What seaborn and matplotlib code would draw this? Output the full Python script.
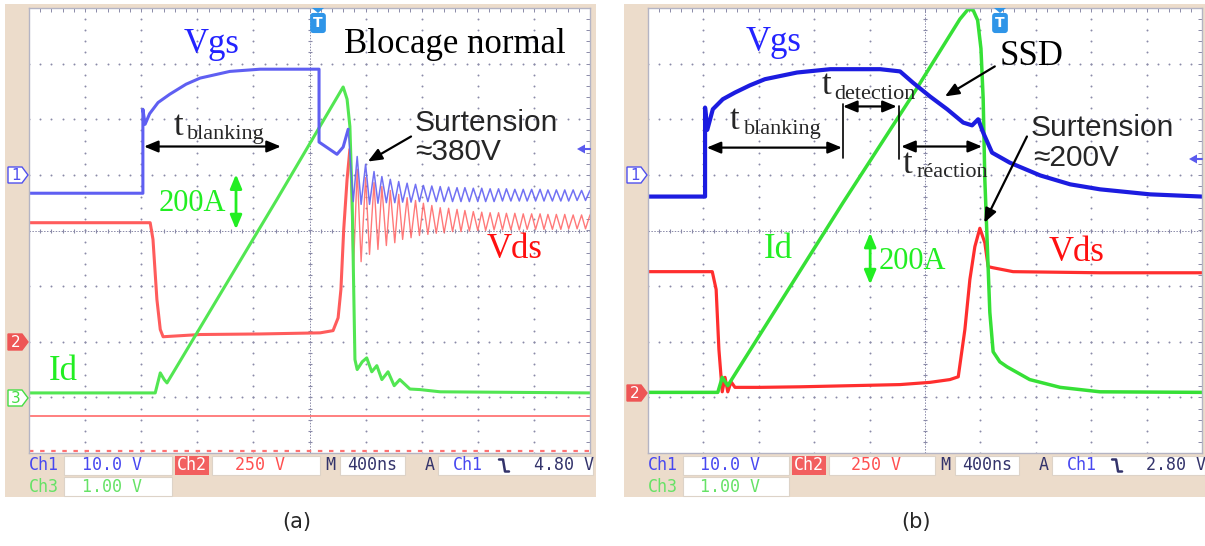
import numpy as np
import pandas as pd
import matplotlib
matplotlib.use("Agg")
import matplotlib.pyplot as plt
import seaborn as sns
from matplotlib.patches import Rectangle, Polygon

# Oscilloscope screen units: x in divisions (0..10), y in divisions (-4..4, 0 = centre line)

# ---- (a) Blocage normal ----
A_VGS_T = [0.00, 2.03, 2.03, 2.07, 2.15, 2.30, 2.51, 2.80, 3.05, 3.58, 4.12, 5.17, 5.17, 5.49, 5.60, 5.69]
A_VGS_V = [0.67, 0.67, 2.18, 1.91, 2.10, 2.30, 2.45, 2.63, 2.74, 2.86, 2.90, 2.90, 1.59, 1.37, 1.50, 1.82]

A_VDS_T = [0.00, 2.16, 2.21, 2.28, 2.34, 2.39, 3.05, 4.12, 5.19, 5.42, 5.51, 5.56, 5.61, 5.67, 5.72]
A_VDS_V = [0.14, 0.14, -0.16, -1.24, -1.78, -1.91, -1.87, -1.86, -1.84, -1.80, -1.57, -1.06, 0.02, 0.92, 1.46]

A_ID_T = [0.00, 2.25, 2.34, 2.41, 2.46, 4.42, 5.60, 5.67, 5.72, 5.76, 5.81, 5.85, 5.94, 6.02,
          6.11, 6.20, 6.29, 6.40, 6.51, 6.61, 6.79, 6.97, 7.33, 10.00]
A_ID_V = [-2.92, -2.92, -2.56, -2.68, -2.74, 0.56, 2.58, 2.36, 1.87, 0.56, -2.32, -2.50, -2.36, -2.29,
          -2.54, -2.43, -2.68, -2.54, -2.79, -2.68, -2.85, -2.86, -2.90, -2.92]

# ringing after turn-off (peaks / troughs)
RING_T = [5.78, 5.85, 5.92, 6.00, 6.07, 6.15, 6.22, 6.29, 6.37, 6.44,
          6.52, 6.59, 6.66, 6.74, 6.81, 6.89, 6.96, 7.03, 7.11, 7.18,
          7.26, 7.33, 7.40, 7.48, 7.55, 7.63, 7.70, 7.77, 7.85, 7.92,
          8.00, 8.07, 8.14, 8.22, 8.29, 8.37, 8.44, 8.51, 8.59, 8.66,
          8.74, 8.81, 8.88, 8.96, 9.03, 9.11, 9.18, 9.25, 9.33, 9.40,
          9.48, 9.55, 9.62, 9.70, 9.77, 9.85, 9.92, 10.00]
A_VGS_RING = [0.52, 1.33, 0.47, 1.19, 0.47, 1.06, 0.49, 0.97, 0.50, 0.92,
              0.50, 0.88, 0.51, 0.85, 0.51, 0.83, 0.52, 0.81, 0.52, 0.80,
              0.52, 0.79, 0.52, 0.78, 0.52, 0.77, 0.52, 0.77, 0.52, 0.76,
              0.52, 0.76, 0.52, 0.75, 0.52, 0.75, 0.53, 0.75, 0.53, 0.74,
              0.53, 0.74, 0.53, 0.74, 0.53, 0.74, 0.53, 0.73, 0.53, 0.73,
              0.53, 0.73, 0.53, 0.73, 0.54, 0.72, 0.54, 0.72]
A_VDS_RING = [-0.79, 1.10, -0.56, 0.95, -0.43, 0.86, -0.34, 0.79, -0.27, 0.72,
              -0.22, 0.65, -0.16, 0.59, -0.13, 0.54, -0.09, 0.49, -0.07, 0.45,
              -0.05, 0.41, -0.04, 0.40, -0.02, 0.38, -0.02, 0.36, -0.01, 0.34,
              0.00, 0.33, 0.00, 0.32, 0.01, 0.32, 0.01, 0.31, 0.01, 0.31,
              0.01, 0.30, 0.02, 0.30, 0.02, 0.30, 0.02, 0.29, 0.02, 0.29,
              0.02, 0.29, 0.03, 0.28, 0.03, 0.28, 0.03, 0.28]
A_REF_LEVEL = -3.33

# ---- (b) SSD ----
B_VGS_T = [0.00, 1.03, 1.03, 1.07, 1.17, 1.35, 1.57, 1.84, 2.11, 2.69, 3.29, 4.19, 4.55, 4.78,
           5.09, 5.40, 5.69, 5.85, 5.96, 6.05, 6.21, 6.53, 7.08, 7.62, 8.16, 9.06, 10.00]
B_VGS_V = [0.61, 0.61, 2.21, 1.81, 2.18, 2.36, 2.48, 2.61, 2.72, 2.84, 2.90, 2.90, 2.86, 2.66,
           2.41, 2.18, 1.94, 1.89, 2.00, 1.76, 1.40, 1.22, 0.99, 0.83, 0.74, 0.65, 0.61]

B_VDS_T = [0.00, 1.16, 1.23, 1.28, 1.34, 1.39, 1.44, 1.50, 1.57, 2.02, 2.74, 3.65, 4.55,
           5.09, 5.45, 5.60, 5.72, 5.81, 5.90, 5.99, 6.08, 6.14, 6.23, 6.59, 8.16, 10.00]
B_VDS_V = [-0.74, -0.74, -1.06, -2.14, -2.90, -2.64, -2.90, -2.72, -2.82, -2.82, -2.81, -2.79, -2.77,
           -2.73, -2.68, -2.63, -1.78, -0.88, -0.29, 0.04, -0.22, -0.65, -0.67, -0.74, -0.76, -0.76]

B_ID_T = [0.00, 1.26, 1.34, 1.44, 3.52, 4.78, 5.63, 5.78, 5.87, 5.95, 6.01, 6.05, 6.08,
          6.17, 6.23, 6.35, 6.48, 6.89, 7.44, 8.16, 10.00]
B_ID_V = [-2.91, -2.91, -2.64, -2.79, 0.50, 2.44, 3.80, 3.98, 3.96, 3.78, 3.27, 2.37, 0.92,
          -1.47, -2.18, -2.36, -2.45, -2.68, -2.82, -2.90, -2.91]

# scope readout (Ch1, Ch2, time base, trigger, Ch3)
READOUT_A = ["10.0 V", "250 V", "400ns", "4.80 V", "1.00 V"]
READOUT_B = ["10.0 V", "250 V", "400ns", "2.80 V", "1.00 V"]

SERIF = "Liberation Serif"
ARIAL = "Liberation Sans"
MONO = "DejaVu Sans Mono"
BEIGE = "#ecdccb"
GRID_C = "#8a8aa8"
W, H = 1205, 546


def trace(ax, t, v, color, lw, alpha=1.0):
    df = pd.DataFrame({"t": t, "v": v})
    sns.lineplot(data=df, x="t", y="v", sort=False, estimator=None,
                 color=color, lw=lw, alpha=alpha, ax=ax, legend=False)


def screen(fig, x0, x1, y0=8, y1=453):
    ax = fig.add_axes([x0 / W, (H - y1) / H, (x1 - x0) / W, (y1 - y0) / H], zorder=2)
    ax.set_facecolor("white")
    fx = np.arange(0, 10.001, 0.2)
    fy = np.arange(-4, 4.001, 0.2)
    for gx in [1, 2, 3, 4, 6, 7, 8, 9]:
        ax.scatter(np.full(len(fy), gx), fy, s=2, color=GRID_C, lw=0)
    for gy in [-3, -2, -1, 1, 2, 3]:
        ax.scatter(fx, np.full(len(fx), gy), s=2, color=GRID_C, lw=0)
    ax.plot([0, 10], [0, 0], color=GRID_C, lw=0.7, ls=(0, (1.5, 1.5)))
    ax.plot([5, 5], [-4, 4], color=GRID_C, lw=0.7, ls=(0, (1.5, 1.5)))
    ax.scatter(fx, np.zeros(len(fx)), marker="|", s=12, color=GRID_C, lw=0.8)
    ax.scatter(np.full(len(fy), 5), fy, marker="_", s=12, color=GRID_C, lw=0.8)
    ax.set_xticks(fx)
    ax.set_yticks(fy)
    ax.tick_params(direction="in", length=3, width=0.7, colors=GRID_C, top=True, right=True,
                   labelbottom=False, labelleft=False)
    for s in ax.spines.values():
        s.set_color("#b4b4c4")
        s.set_linewidth(1.0)
    return ax


def finish(ax):
    ax.set_xlim(0, 10)
    ax.set_ylim(-4, 4)
    ax.set_xlabel("")
    ax.set_ylabel("")


def arrow(ax, start, end, style, color="black", lw=1.6):
    ax.annotate("", xy=end, xytext=start,
                arrowprops=dict(arrowstyle=style + ",head_length=0.6,head_width=0.25",
                                color=color, lw=lw, shrinkA=0, shrinkB=0, mutation_scale=14))


def tsub(ax, x, y, xs, ys, sub):
    ax.text(x, y, "t", fontsize=25, family=SERIF, va="baseline")
    ax.text(xs, ys, sub, fontsize=16, family=SERIF, va="baseline")


def ch_marker(ov, xl, yc, label, fc, ec, tc):
    ov.add_patch(Polygon([(xl, yc - 8), (xl + 14, yc - 8), (xl + 20, yc), (xl + 14, yc + 8), (xl, yc + 8)],
                         closed=True, fc=fc, ec=ec, lw=1))
    ov.text(xl + 8, yc + 0.5, label, color=tc, fontsize=11, ha="center", va="center")


def trig_marks(ov, xt, xr, yr):
    ov.add_patch(Polygon([(xt - 6, 8), (xt + 6, 8), (xt, 13)], closed=True, fc="#2f95e8", ec="none"))
    ov.text(xt, 23, "T", color="white", fontsize=10, fontweight="bold", ha="center", va="center",
            bbox=dict(boxstyle="round,pad=0.22", fc="#2f95e8", ec="none"))
    ov.add_patch(Polygon([(xr - 13, yr), (xr - 5, yr - 4.5), (xr - 5, yr + 4.5)], closed=True,
                         fc="#5a5aee", ec="none"))
    ov.plot([xr - 5, xr], [yr, yr], color="#5a5aee", lw=1.5)


def readout(ov, X, vals):
    r1, r2 = 465.5, 486.5
    for a, b in [(64, 172), (212, 320), (340, 405), (438, 593)]:
        ov.add_patch(Rectangle((X(a), 456), X(b) - X(a), 19, fc="white", ec="#ddd3c8", lw=0.8))
    ov.add_patch(Rectangle((X(64), 477), X(172) - X(64), 19, fc="white", ec="#ddd3c8", lw=0.8))
    ov.add_patch(Rectangle((X(175), 456), X(209) - X(175), 19, fc="#f25f5f", ec="none"))
    blue, red, navy, green = "#4848f0", "#ff5050", "#33336b", "#66e266"
    items = [("Ch1", 44, r1, blue), (vals[0], 112, r1, blue), ("Ch2", 192, r1, "white"),
             (vals[1], 260, r1, red), ("M", 330, r1, navy), (vals[2], 372, r1, navy),
             ("A", 430, r1, navy), ("Ch1", 468, r1, blue), (vals[3], 564, r1, navy),
             ("Ch3", 44, r2, green), (vals[4], 112, r2, green)]
    for txt, x, y, c in items:
        ov.text(X(x), y, txt, color=c, fontsize=12, family=MONO, ha="center", va="center")
    xs = X(504)
    ov.plot([xs - 5, xs - 1, xs + 1, xs + 5], [r1 - 6, r1 - 6, r1 + 6, r1 + 6], color=navy, lw=1.8)


sns.set_theme(style="white")
plt.rcParams["font.family"] = ["DejaVu Sans"]

fig = plt.figure(figsize=(12.05, 5.46), dpi=100)
bg = fig.add_axes([0, 0, 1, 1], zorder=0)
bg.set_xlim(0, W)
bg.set_ylim(H, 0)
bg.axis("off")
bg.add_patch(Rectangle((5, 4), 591, 493, fc=BEIGE, ec="none"))
bg.add_patch(Rectangle((624, 4), 581, 493, fc=BEIGE, ec="none"))

# ---------------- panel (a) ----------------
ax_a = screen(fig, 29, 590)
ax_a.axhline(A_REF_LEVEL, color="#ff6a6a", lw=1.2)
ax_a.axhline(-3.96, color="#ff7070", lw=1.6, dashes=(2, 3))
trace(ax_a, A_VDS_T, A_VDS_V, "#ff5c5c", 2.2)
trace(ax_a, [A_VDS_T[-1]] + RING_T, [A_VDS_V[-1]] + A_VDS_RING, "#ff6262", 1.0, 0.85)
trace(ax_a, A_ID_T, A_ID_V, "#52e652", 2.2)
trace(ax_a, A_VGS_T, A_VGS_V, "#5f5ff2", 2.2)
trace(ax_a, [A_VGS_T[-1]] + RING_T, [A_VGS_V[-1]] + A_VGS_RING, "#6262f2", 1.1, 0.9)
finish(ax_a)

ax_a.text(3.26, 3.35, "Vgs", color="#2323ff", fontsize=25, family=SERIF, ha="center", va="center")
ax_a.text(7.59, 3.35, "Blocage normal", color="black", fontsize=25, family=SERIF, ha="center", va="center")
tsub(ax_a, 2.58, 1.71, 2.82, 1.64, "blanking")
arrow(ax_a, (2.05, 1.51), (4.49, 1.51), "<|-|>")
ax_a.text(6.88, 1.93, "Surtension", fontsize=21.5, family=ARIAL, ha="left", va="center")
ax_a.text(6.88, 1.41, "≈380V", fontsize=21.5, family=ARIAL, ha="left", va="center")
arrow(ax_a, (6.81, 1.69), (6.04, 1.24), "-|>")
ax_a.text(2.92, 0.49, "200A", color="#22ee22", fontsize=22, family=SERIF, ha="center", va="center")
arrow(ax_a, (3.69, 1.01), (3.69, 0.02), "<|-|>", color="#22ee22", lw=2)
ax_a.text(8.66, -0.34, "Vds", color="#ff1010", fontsize=25, family=SERIF, ha="center", va="center")
ax_a.text(0.61, -2.54, "Id", color="#22ee22", fontsize=25, family=SERIF, ha="center", va="center")

# ---------------- panel (b) ----------------
ax_b = screen(fig, 648, 1202)
trace(ax_b, B_VDS_T, B_VDS_V, "#ff2e2e", 2.3)
trace(ax_b, B_ID_T, B_ID_V, "#36e036", 2.5)
trace(ax_b, B_VGS_T, B_VGS_V, "#1c1ce0", 3.0)
finish(ax_b)

ax_b.text(2.26, 3.38, "Vgs", color="#2323ff", fontsize=25, family=SERIF, ha="center", va="center")
ax_b.text(6.93, 3.13, "SSD", color="black", fontsize=25, family=SERIF, ha="center", va="center")
arrow(ax_b, (6.26, 2.95), (5.36, 2.41), "-|>")
tsub(ax_b, 3.14, 2.45, 3.36, 2.37, "detection")
arrow(ax_b, (3.52, 2.23), (4.49, 2.23), "<|-|>")
ax_b.plot([3.52, 3.52], [2.27, 1.31], color="black", lw=1.2)
ax_b.plot([4.53, 4.53], [2.23, 1.28], color="black", lw=1.2)
tsub(ax_b, 1.48, 1.82, 1.73, 1.74, "blanking")
arrow(ax_b, (1.06, 1.49), (3.50, 1.49), "<|-|>")
tsub(ax_b, 4.60, 1.04, 4.84, 0.97, "réaction")
arrow(ax_b, (4.57, 1.51), (6.03, 1.51), "<|-|>")
ax_b.text(6.90, 1.85, "Surtension", fontsize=21.5, family=ARIAL, ha="left", va="center")
ax_b.text(6.95, 1.31, "≈200V", fontsize=21.5, family=ARIAL, ha="left", va="center")
arrow(ax_b, (6.84, 1.69), (6.07, 0.14), "-|>")
ax_b.text(2.36, -0.34, "Id", color="#22ee22", fontsize=25, family=SERIF, ha="center", va="center")
arrow(ax_b, (4.01, -0.04), (4.01, -0.97), "<|-|>", color="#22ee22", lw=2)
ax_b.text(4.78, -0.56, "200A", color="#22ee22", fontsize=22, family=SERIF, ha="center", va="center")
ax_b.text(7.74, -0.40, "Vds", color="#ff1010", fontsize=25, family=SERIF, ha="center", va="center")

# ---------------- overlay: markers, readout, captions ----------------
ov = fig.add_axes([0, 0, 1, 1], zorder=5)
ov.set_xlim(0, W)
ov.set_ylim(H, 0)
ov.axis("off")

ch_marker(ov, 8, 175, "1", "white", "#5050ee", "#5050ee")
ch_marker(ov, 8, 342, "2", "#ee5555", "#ee5555", "white")
ch_marker(ov, 8, 398, "3", "white", "#44dd44", "#44dd44")
ch_marker(ov, 627, 175, "1", "white", "#5050ee", "#5050ee")
ch_marker(ov, 627, 393, "2", "#ee5555", "#ee5555", "white")
trig_marks(ov, 318, 590, 149)
trig_marks(ov, 1000, 1202, 159)

readout(ov, lambda x: x, READOUT_A)
readout(ov, lambda x: 648 + (x - 29) * 554 / 561, READOUT_B)

ov.text(297, 522, "(a)", fontsize=15, ha="center", va="center")
ov.text(916, 522, "(b)", fontsize=15, ha="center", va="center")

fig.savefig("out.png", dpi=100)
